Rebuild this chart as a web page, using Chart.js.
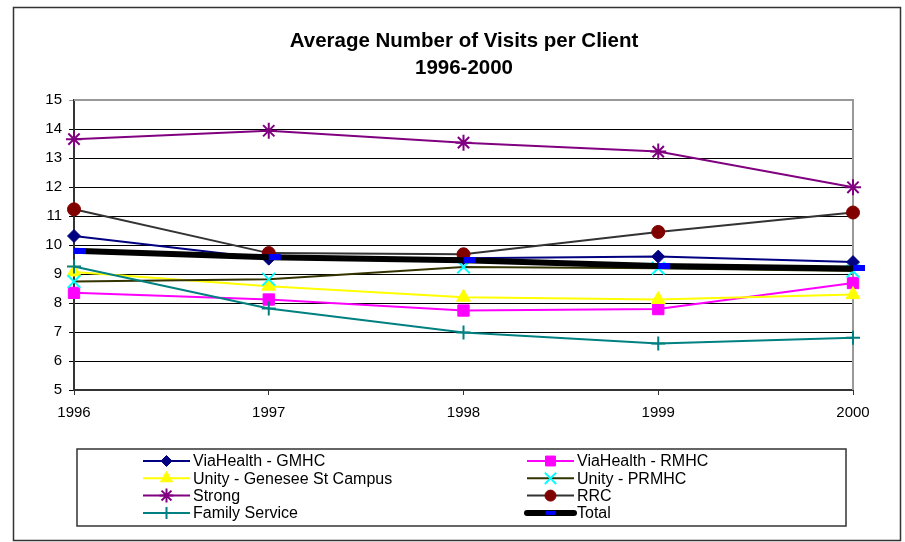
<!DOCTYPE html>
<html>
<head>
<meta charset="utf-8">
<title>Average Number of Visits per Client</title>
<script src="https://cdn.jsdelivr.net/npm/chart.js@4.4.0/dist/chart.umd.min.js"></script>
<style>
  html, body { margin: 0; padding: 0; background: #fff; }
  canvas { display: block; }
</style>
</head>
<body>
<canvas id="chart" width="905" height="542"></canvas>
<script>
const years = ['1996', '1997', '1998', '1999', '2000'];

const viaGMHC = [10.31, 9.53, 9.54, 9.6, 9.41];
const viaRMHC = [8.35, 8.12, 7.74, 7.79, 8.69];
const unityGenesee = [9.07, 8.58, 8.2, 8.12, 8.29];
const unityPRMHC = [8.74, 8.82, 9.24, 9.2, 9.1];
const strong = [13.65, 13.94, 13.53, 13.22, 11.99];
const rrc = [11.23, 9.72, 9.68, 10.45, 11.12];
const familyService = [9.26, 7.81, 6.98, 6.6, 6.8];
const total = [9.8, 9.58, 9.47, 9.28, 9.19];

const FONT = '"Liberation Sans", Arial, sans-serif';

// Excel-style "dash" marker for the Total series, sits right of the point
const dash = document.createElement('canvas');
dash.width = 26;
dash.height = 6;
const dctx = dash.getContext('2d');
dctx.fillStyle = '#0000ff';
dctx.fillRect(13, 0, 12, 6);

const series = [
  { label: 'ViaHealth - GMHC', data: viaGMHC, line: '#000080', fill: '#000080', style: 'rectRot', r: 6.5, bw: 1 },
  { label: 'ViaHealth - RMHC', data: viaRMHC, line: '#ff00ff', fill: '#ff00ff', style: 'rect', r: 8, bw: 1 },
  { label: 'Unity - Genesee St Campus', data: unityGenesee, line: '#ffff00', fill: '#ffff00', style: 'triangle', r: 8, bw: 1 },
  { label: 'Unity - PRMHC', data: unityPRMHC, line: '#333300', fill: '#00ffff', style: 'crossRot', r: 9, bw: 2 },
  { label: 'Strong', data: strong, line: '#800080', fill: '#800080', style: 'star', r: 8, bw: 2 },
  { label: 'RRC', data: rrc, line: '#333333', fill: '#800000', style: 'circle', r: 6.5, bw: 1 },
  { label: 'Family Service', data: familyService, line: '#008080', fill: '#008080', style: 'cross', r: 7, bw: 2 },
  { label: 'Total', data: total, line: '#000000', fill: '#0000ff', style: dash, r: 6, bw: 0, width: 6 },
];

const datasets = series.map((s, i) => ({
  label: s.label,
  data: s.data,
  borderColor: s.line,
  borderWidth: s.width || 2,
  pointStyle: s.style,
  pointRadius: s.r,
  pointHoverRadius: s.r,
  pointBackgroundColor: s.fill,
  pointBorderColor: s.fill,
  pointBorderWidth: s.bw,
  tension: 0,
  clip: false,
  order: series.length - i,
}));

const frame = {
  id: 'frame',
  beforeDraw(chart) {
    const ctx = chart.ctx;
    ctx.save();
    ctx.fillStyle = '#fff';
    ctx.fillRect(0, 0, chart.width, chart.height);
    ctx.strokeStyle = '#333';
    ctx.lineWidth = 1.5;
    ctx.strokeRect(13.5, 7.5, 887, 533);
    ctx.fillStyle = '#000';
    ctx.font = 'bold 20.5px ' + FONT;
    ctx.textAlign = 'center';
    ctx.textBaseline = 'alphabetic';
    ctx.fillText('Average Number of Visits per Client', 464, 47);
    ctx.fillText('1996-2000', 464, 74);
    ctx.restore();
  },
  beforeDatasetsDraw(chart) {
    const { ctx, chartArea: a } = chart;
    ctx.save();
    ctx.strokeStyle = '#999';
    ctx.lineWidth = 2;
    ctx.beginPath();
    ctx.moveTo(a.left, a.top);
    ctx.lineTo(a.right, a.top);
    ctx.lineTo(a.right, a.bottom);
    ctx.stroke();
    ctx.restore();
  },
  afterDraw(chart) {
    const ctx = chart.ctx;
    ctx.save();
    ctx.strokeStyle = '#333';
    ctx.lineWidth = 1.5;
    ctx.strokeRect(77, 449, 769, 77);
    ctx.font = '16px ' + FONT;
    ctx.textBaseline = 'middle';
    ctx.textAlign = 'left';
    chart.data.datasets.forEach((ds, i) => {
      const x0 = [143, 527][i % 2];
      const y = 461 + Math.floor(i / 2) * 17.3;
      ctx.strokeStyle = ds.borderColor;
      ctx.lineWidth = ds.borderWidth;
      ctx.lineCap = ds.borderWidth > 3 ? 'round' : 'butt';
      ctx.beginPath();
      ctx.moveTo(x0, y);
      ctx.lineTo(x0 + 47, y);
      ctx.stroke();
      ctx.lineCap = 'butt';
      const cx = x0 + 23.5;
      if (ds.pointStyle === dash) {
        ctx.fillStyle = '#0000ff';
        ctx.fillRect(cx - 5, y - 2, 10, 4);
      } else {
        ctx.fillStyle = ds.pointBackgroundColor;
        ctx.strokeStyle = ds.pointBorderColor;
        ctx.lineWidth = ds.pointBorderWidth;
        Chart.helpers.drawPoint(ctx, {
          pointStyle: ds.pointStyle,
          radius: ds.pointRadius - 1,
          rotation: 0,
          borderWidth: ds.pointBorderWidth,
        }, cx, y);
      }
      ctx.fillStyle = '#000';
      ctx.fillText(ds.label, x0 + 50, y + 1);
    });
    ctx.restore();
  },
};

new Chart(document.getElementById('chart'), {
  type: 'line',
  data: { labels: years, datasets },
  options: {
    responsive: false,
    animation: false,
    events: [],
    layout: { padding: { left: 14, right: 52, top: 100, bottom: 122 } },
    plugins: {
      legend: { display: false },
      title: { display: false },
      tooltip: { enabled: false },
    },
    scales: {
      x: {
        offset: false,
        afterFit: (s) => { s.height = 30; },
        grid: { drawOnChartArea: false, drawTicks: true, tickLength: 5, color: '#333' },
        border: { color: '#333', width: 2 },
        ticks: { color: '#000', padding: 9, font: { family: FONT, size: 15 } },
      },
      y: {
        min: 5,
        max: 15,
        afterFit: (s) => { s.width = 60; },
        grid: {
          color: (c) => (c.tick && c.tick.value === 15 ? '#999' : '#000'),
          lineWidth: 1,
          tickLength: 5,
        },
        border: { color: '#333', width: 2 },
        ticks: { stepSize: 1, color: '#000', padding: 7, font: { family: FONT, size: 15 } },
      },
    },
  },
  plugins: [frame],
});
</script>
</body>
</html>
